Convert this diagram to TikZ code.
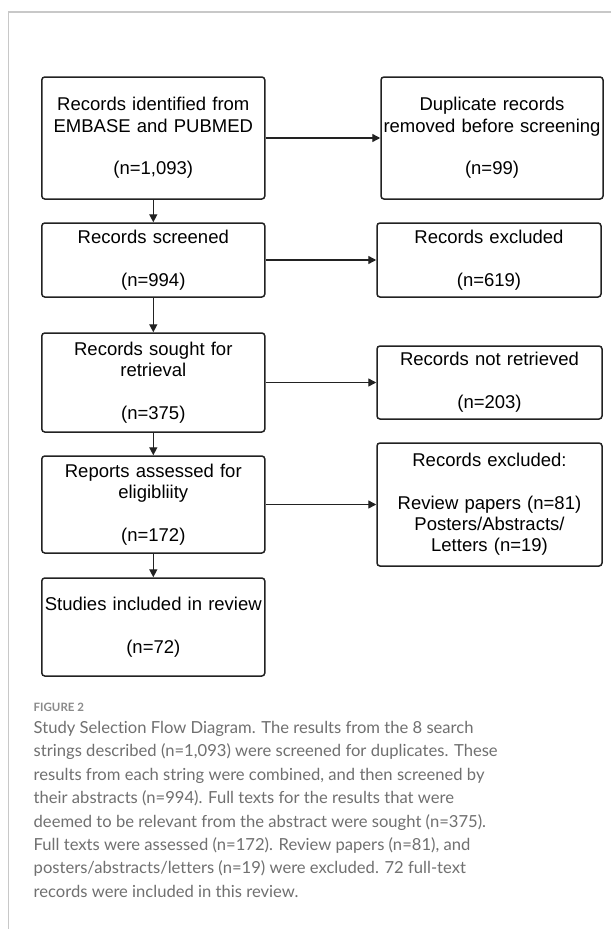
\documentclass[tikz,border=0pt]{standalone}
\usepackage{fontspec}
\setmainfont{Liberation Sans}
\newfontfamily\capfont[Ligatures={NoCommon,NoDiscretionary}]{Lato}
\usetikzlibrary{arrows.meta}
\definecolor{boxline}{HTML}{222222}
\definecolor{framegray}{HTML}{C8C8C8}
\definecolor{capgray}{HTML}{707070}
\definecolor{figgray}{HTML}{8A8A8A}
\tikzset{
  flowbox/.style={draw=boxline, line width=1.5pt, rounded corners=3pt,
    inner sep=0pt, align=center, font=\fontsize{18.5}{21.3}\selectfont,
    text=black},
  flowarrow/.style={draw=boxline, line width=1.4pt,
    -{Triangle[length=8pt,width=8pt]}},
}
\begin{document}
\begin{tikzpicture}[x=1pt,y=-1pt]
\useasboundingbox (0,0) rectangle (611,929);
\fill[white] (0,0) rectangle (611,929);
% frame
\draw[framegray, line width=1.3pt] (611,12) -- (8.5,12) -- (8.5,929);
% left column
\node[flowbox, minimum width=223pt, minimum height=122pt, text width=223pt] (b1) at (153.3,138)
  {Records identified from\\EMBASE and PUBMED\\[21.3pt](n=1,093)};
\node[flowbox, minimum width=223pt, minimum height=74pt, text width=223pt] (b2) at (153.3,260)
  {Records screened\\[21.3pt](n=994)};
\node[flowbox, minimum width=223pt, minimum height=99pt, text width=223pt] (b3) at (153.3,382.5)
  {Records sought for\\retrieval\\[21.3pt](n=375)};
\node[flowbox, minimum width=223pt, minimum height=97pt, text width=223pt] (b4) at (153.3,504.5)
  {Reports assessed for\\eligibliity\\[21.3pt](n=172)};
\node[flowbox, minimum width=223pt, minimum height=98pt, text width=223pt] (b5) at (153.3,627)
  {Studies included in review\\[21.3pt](n=72)};
% right column
\node[flowbox, minimum width=222pt, minimum height=122pt, text width=222pt] (r1) at (492,138)
  {Duplicate records\\removed before screening\\[21.3pt](n=99)};
\node[flowbox, minimum width=224pt, minimum height=74pt, text width=224pt] (r2) at (489,260)
  {Records excluded\\[21.3pt](n=619)};
\node[flowbox, minimum width=225pt, minimum height=73pt, text width=225pt] (r3) at (489.5,382.5)
  {Records not retrieved\\[21.3pt](n=203)};
\node[flowbox, minimum width=225pt, minimum height=123pt, text width=225pt] (r4) at (489.5,504.5)
  {Records excluded:\\[21.3pt]Review papers (n=81)\\Posters/Abstracts/\\Letters (n=19)};
% vertical arrows
\draw[flowarrow] (b1.south) -- (b2.north);
\draw[flowarrow] (b2.south) -- (b3.north);
\draw[flowarrow] (b3.south) -- (b4.north);
\draw[flowarrow] (b4.south) -- (b5.north);
% horizontal arrows
\draw[flowarrow] (b1.east) -- (b1.east -| r1.west);
\draw[flowarrow] (b2.east) -- (b2.east -| r2.west);
\draw[flowarrow] (b3.east) -- (b3.east -| r3.west);
\draw[flowarrow] (b4.east) -- (b4.east -| r4.west);
% caption
\node[anchor=base west, inner sep=0pt, text=figgray, font=\capfont\bfseries\fontsize{11.5}{14}\selectfont] (fig) at (33.5,711) {FIGURE 2};
\node[anchor=north west, inner sep=0pt, text=capgray, align=left,
  font=\capfont\fontsize{16.6}{23.4}\selectfont] (cap) at (33.5,721)
  {Study Selection Flow Diagram. The results from the 8 search\\
   strings described (n=1,093) were screened for duplicates. These\\
   results from each string were combined, and then screened by\\
   their abstracts (n=994). Full texts for the results that were\\
   deemed to be relevant from the abstract were sought (n=375).\\
   Full texts were assessed (n=172). Review papers (n=81), and\\
   posters/abstracts/letters (n=19) were excluded. 72 full-text\\
   records were included in this review.};
\end{tikzpicture}
\end{document}
